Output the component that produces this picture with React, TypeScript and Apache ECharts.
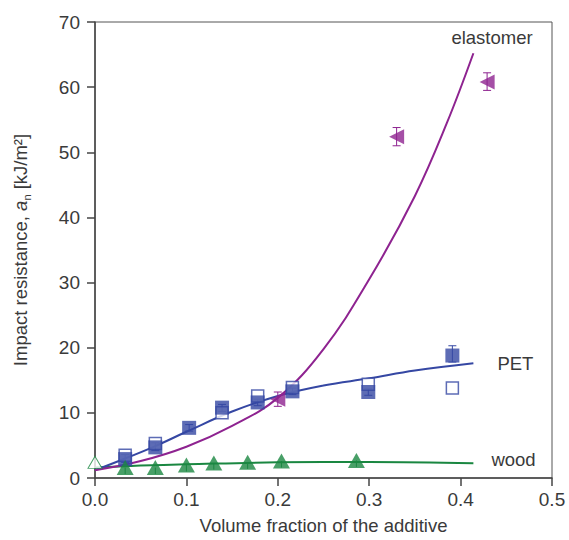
import React, { useEffect, useRef } from "react";
import * as echarts from "echarts";

// Measured points
const petX = [0.033, 0.066, 0.103, 0.139, 0.178, 0.216, 0.299, 0.391];
const petFilled = [2.9, 4.7, 7.7, 10.8, 11.6, 13.3, 13.2, 18.8];
const petOpenX = [0.033, 0.066, 0.139, 0.178, 0.216, 0.299, 0.391];
const petOpen = [3.5, 5.3, 10.0, 12.6, 13.9, 14.4, 13.8];
const petErrLow = [2.4, 4.2, 7.2, 10.2, 11.1, 12.8, 12.7, 17.8];
const petErrHigh = [3.6, 5.4, 8.2, 11.3, 12.1, 13.8, 13.7, 20.3];

const elastX = [0.2, 0.33, 0.429];
const elastY = [12.1, 52.4, 60.8];
const elastErrLow = [11.0, 51.0, 59.5];
const elastErrHigh = [13.2, 53.8, 62.2];

const woodX = [0.033, 0.066, 0.1, 0.13, 0.167, 0.204, 0.286];
const woodY = [1.6, 1.6, 2.0, 2.3, 2.4, 2.6, 2.7];
const woodErrLow = [0.6, 0.6, 1.0, 1.3, 1.4, 1.6, 1.7];
const woodErrHigh = [1.6, 1.6, 2.0, 2.3, 2.4, 2.6, 2.7];
const woodOpenX = [0.0];
const woodOpenY = [2.4];

// Fitted curves
const elastCurveX = [0, 0.05, 0.1, 0.15, 0.2, 0.25, 0.3, 0.35, 0.385, 0.414];
const elastCurveY = [1.2, 2.6, 4.8, 8.0, 12.3, 19.8, 30.5, 43.3, 54.5, 65.2];
const petCurveX = [0, 0.033, 0.066, 0.1, 0.15, 0.2, 0.25, 0.3, 0.35, 0.414];
const petCurveY = [1.2, 3.0, 4.9, 7.1, 10.2, 12.6, 14.2, 15.3, 16.5, 17.6];
const woodCurveX = [0, 0.05, 0.1, 0.2, 0.3, 0.414];
const woodCurveY = [1.6, 1.9, 2.1, 2.4, 2.45, 2.25];

const xTicks = [0, 0.1, 0.2, 0.3, 0.4, 0.5];
const yTicks = [0, 10, 20, 30, 40, 50, 60, 70];

const BLUE = "#3547a3";
const PURPLE = "#8e2390";
const GREEN = "#1a8741";
const TXT = "#3a3a3a";
const FONT = "'Liberation Sans', Arial, sans-serif";
const FS = 18.5;

const zip = (a: number[], b: number[]) => a.map((v, i) => [v, b[i]]);
const zip3 = (a: number[], b: number[], c: number[]) => a.map((v, i) => [v, b[i], c[i]]);

function errSeries(data: number[][], color: string, cap: number, z: number) {
  return {
    type: "custom",
    z,
    silent: true,
    encode: { x: 0, y: [1, 2] },
    data,
    renderItem: (params: any, api: any) => {
      const x = api.value(0);
      const p1 = api.coord([x, api.value(1)]);
      const p2 = api.coord([x, api.value(2)]);
      const st = { stroke: color, lineWidth: 1 };
      const children: any[] = [
        { type: "line", shape: { x1: p1[0], y1: p1[1], x2: p2[0], y2: p2[1] }, style: st },
      ];
      if (cap > 0) {
        children.push({ type: "line", shape: { x1: p2[0] - cap, y1: p2[1], x2: p2[0] + cap, y2: p2[1] }, style: st });
        children.push({ type: "line", shape: { x1: p1[0] - cap, y1: p1[1], x2: p1[0] + cap, y2: p1[1] }, style: st });
      }
      return { type: "group", children };
    },
  };
}

export default function App() {
  const ref = useRef<HTMLDivElement>(null);
  useEffect(() => {
    if (!ref.current) return;
    document.body.style.margin = "0";
    const chart = echarts.init(ref.current, undefined, { renderer: "svg" });
    const option: any = {
      animation: false,
      textStyle: { fontFamily: FONT },
      grid: {
        left: 95,
        right: 17,
        top: 22,
        bottom: 62,
        show: true,
        borderColor: "#555",
        borderWidth: 1,
        backgroundColor: "transparent",
      },
      xAxis: {
        type: "value",
        min: xTicks[0],
        max: xTicks[xTicks.length - 1],
        interval: 0.1,
        name: "Volume fraction of the additive",
        nameLocation: "middle",
        nameGap: 38,
        nameTextStyle: { fontSize: FS, color: TXT, fontFamily: FONT },
        axisLine: { lineStyle: { color: "#444", width: 1.5 } },
        axisTick: { show: true, inside: false, length: 8, lineStyle: { color: "#444", width: 1.5 } },
        axisLabel: {
          margin: 12,
          fontSize: 19,
          color: TXT,
          fontFamily: FONT,
          formatter: (v: number) => v.toFixed(1),
        },
        splitLine: { show: false },
      },
      yAxis: {
        type: "value",
        min: yTicks[0],
        max: yTicks[yTicks.length - 1],
        interval: 10,
        name: "Impact resistance, {i|a}{s|n} {r|[kJ/m²]}",
        nameLocation: "middle",
        nameGap: 63,
        nameTextStyle: {
          fontSize: FS,
          color: TXT,
          fontFamily: FONT,
          lineHeight: 24,
          rich: {
            i: { fontStyle: "italic", fontSize: FS, color: TXT, fontFamily: FONT, lineHeight: 24 },
            s: { fontSize: 11, color: TXT, fontFamily: FONT, verticalAlign: "bottom", lineHeight: 24 },
            r: { fontSize: FS, color: TXT, fontFamily: FONT, lineHeight: 24 },
          },
        },
        axisLine: { show: true, lineStyle: { color: "#444", width: 1.5 } },
        axisTick: { show: true, inside: false, length: 8, lineStyle: { color: "#444", width: 1.5 } },
        axisLabel: { margin: 15, fontSize: 19, color: TXT, fontFamily: FONT },
        splitLine: { show: false },
      },
      series: [
        {
          type: "line",
          name: "wood fit",
          data: zip(woodCurveX, woodCurveY),
          smooth: 0.4,
          showSymbol: false,
          z: 2,
          lineStyle: { color: GREEN, width: 2 },
          endLabel: {
            show: true,
            formatter: "wood",
            distance: 18,
            offset: [0, -4],
            fontSize: FS,
            color: TXT,
            fontFamily: FONT,
          },
        },
        {
          type: "line",
          name: "PET fit",
          data: zip(petCurveX, petCurveY),
          smooth: 0.4,
          showSymbol: false,
          z: 2,
          lineStyle: { color: BLUE, width: 2 },
          endLabel: {
            show: true,
            formatter: "PET",
            distance: 24,
            fontSize: FS,
            color: TXT,
            fontFamily: FONT,
          },
        },
        {
          type: "line",
          name: "elastomer fit",
          data: zip(elastCurveX, elastCurveY),
          smooth: 0.4,
          showSymbol: false,
          z: 2,
          lineStyle: { color: PURPLE, width: 2 },
          endLabel: {
            show: true,
            formatter: "elastomer",
            distance: 5,
            offset: [-27, -16],
            fontSize: FS,
            color: TXT,
            fontFamily: FONT,
          },
        },
        errSeries(zip3(petX, petErrLow, petErrHigh), BLUE, 4, 3),
        errSeries(zip3(elastX, elastErrLow, elastErrHigh), PURPLE, 4, 3),
        errSeries(zip3(woodX, woodErrLow, woodErrHigh), GREEN, 0, 3),
        {
          type: "scatter",
          name: "wood open",
          data: zip(woodOpenX, woodOpenY),
          symbol: "triangle",
          symbolSize: [14, 12],
          z: 4,
          itemStyle: { color: "#fff", borderColor: GREEN, borderWidth: 1 },
        },
        {
          type: "scatter",
          name: "PET open",
          data: zip(petOpenX, petOpen),
          symbol: "rect",
          symbolSize: 12,
          z: 4,
          itemStyle: { color: "#fff", borderColor: BLUE, borderWidth: 1.5 },
        },
        {
          type: "scatter",
          name: "PET",
          data: zip(petX, petFilled),
          symbol: "rect",
          symbolSize: 14,
          z: 5,
          itemStyle: { color: BLUE },
        },
        {
          type: "scatter",
          name: "wood",
          data: zip(woodX, woodY),
          symbol: "triangle",
          symbolSize: [17, 15],
          z: 5,
          itemStyle: { color: GREEN },
        },
        {
          type: "scatter",
          name: "elastomer",
          data: zip(elastX, elastY),
          symbol: "triangle",
          symbolRotate: 90,
          symbolSize: [15, 15],
          z: 5,
          itemStyle: { color: PURPLE },
        },
      ],
    };
    chart.setOption(option);
    return () => chart.dispose();
  }, []);
  return <div ref={ref} style={{ width: 569, height: 540 }} />;
}
